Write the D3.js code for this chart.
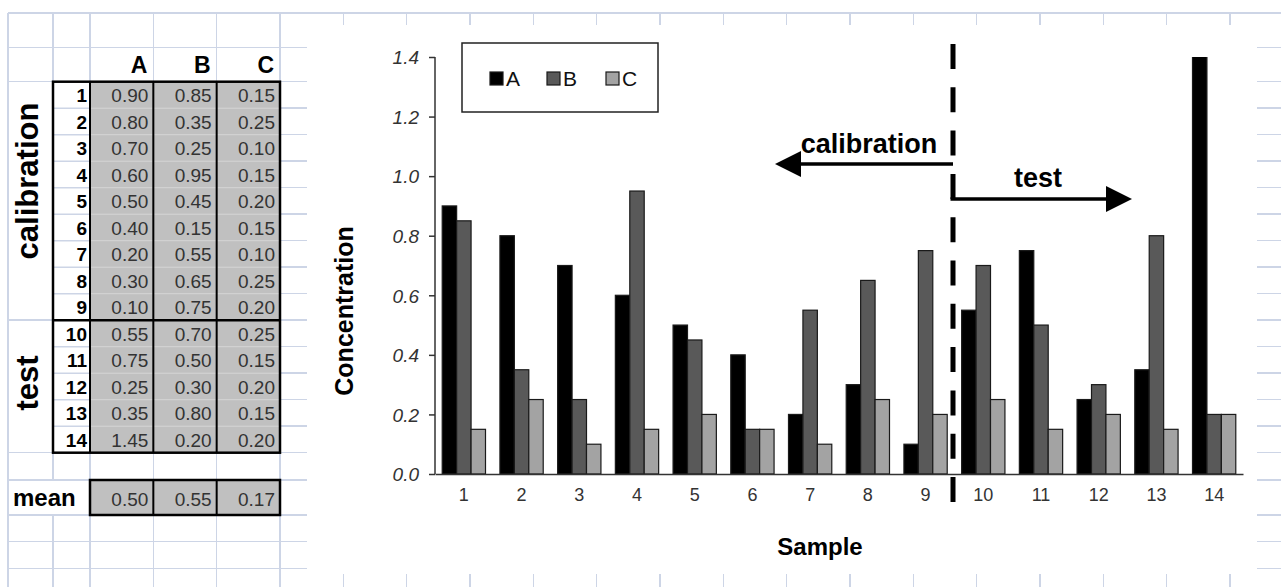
<!DOCTYPE html>
<html>
<head>
<meta charset="utf-8">
<script src="https://cdn.jsdelivr.net/npm/d3@7"></script>
<style>
  html, body { margin: 0; padding: 0; background: #fff; }
  svg { display: block; font-family: "Liberation Sans", Arial, sans-serif; }
</style>
</head>
<body>
<svg id="sheet" width="1281" height="587"></svg>
<script>
// Sample numbers and measured concentrations of three analytes
const samples = ["1","2","3","4","5","6","7","8","9","10","11","12","13","14"];
const seriesNames = ["A", "B", "C"];
const valuesA = [0.90, 0.80, 0.70, 0.60, 0.50, 0.40, 0.20, 0.30, 0.10, 0.55, 0.75, 0.25, 0.35, 1.45];
const valuesB = [0.85, 0.35, 0.25, 0.95, 0.45, 0.15, 0.55, 0.65, 0.75, 0.70, 0.50, 0.30, 0.80, 0.20];
const valuesC = [0.15, 0.25, 0.10, 0.15, 0.20, 0.15, 0.10, 0.25, 0.20, 0.25, 0.15, 0.20, 0.15, 0.20];
const calibrationCount = 9;           // samples 1..9 calibrate, 10..14 test
const yTicks = [0.0, 0.2, 0.4, 0.6, 0.8, 1.0, 1.2, 1.4];
const seriesFill = ["#000000", "#595959", "#a3a3a3"];

const series = [valuesA, valuesB, valuesC];
const rows = samples.map((s, i) => ({ sample: s, vals: series.map(v => v[i]) }));
const means = series.map(v => d3.mean(v.slice(0, calibrationCount)));

const svg = d3.select("#sheet");
const W = 1281, H = 587;
const gridColor = "#cdd5e6";

// ---------- worksheet grid ----------
const colEdges = [8, 53, 90];
for (let k = 1; k <= 19; k++) colEdges.push(90 + 63.33 * k);
const rowEdges = [13, 47.3, 81.7];
for (let k = 1; k <= 14; k++) rowEdges.push(81.7 + 26.5 * k);
rowEdges.push(480, 515, 541.7, 568.3, 595);

const grid = svg.append("g").attr("shape-rendering", "crispEdges");
grid.selectAll("line.h").data(rowEdges).join("line")
  .attr("x1", 8).attr("x2", W).attr("y1", d => d).attr("y2", d => d)
  .attr("stroke", gridColor).attr("stroke-width", 1.5);
grid.selectAll("line.v").data(colEdges).join("line")
  .attr("x1", d => d).attr("x2", d => d).attr("y1", 13).attr("y2", H)
  .attr("stroke", gridColor).attr("stroke-width", 1.5);

// merged label cells (calibration / test / mean) hide inner grid lines
const rowTop = i => 81.7 + 26.5 * i;
grid.append("rect").attr("x", 9).attr("y", rowTop(0) + 1).attr("width", 43).attr("height", rowTop(9) - rowTop(0) - 2).attr("fill", "#fff");
grid.append("rect").attr("x", 9).attr("y", rowTop(9) + 1).attr("width", 43).attr("height", rowTop(14) - rowTop(9) - 2).attr("fill", "#fff");
grid.append("rect").attr("x", 9).attr("y", 481).attr("width", 80).attr("height", 33).attr("fill", "#fff");

// ---------- data table ----------
const tbl = svg.append("g");
const dataCols = [90, 90 + 63.33, 90 + 126.67, 90 + 190];
tbl.append("rect").attr("x", 53).attr("y", rowTop(0)).attr("width", 37).attr("height", rowTop(14) - rowTop(0)).attr("fill", "#fff");
tbl.append("rect").attr("x", 90).attr("y", rowTop(0)).attr("width", 190).attr("height", rowTop(14) - rowTop(0)).attr("fill", "#c0c0c0");
// faint row separators inside the table
tbl.selectAll("line.rs").data(d3.range(1, 14)).join("line")
  .attr("x1", 53).attr("x2", 90).attr("y1", d => rowTop(d)).attr("y2", d => rowTop(d))
  .attr("stroke", gridColor).attr("stroke-width", 1.5);
tbl.selectAll("line.rg").data(d3.range(1, 14)).join("line")
  .attr("x1", 90).attr("x2", 280).attr("y1", d => rowTop(d)).attr("y2", d => rowTop(d))
  .attr("stroke", "#d6d6d6").attr("stroke-width", 1);

// column headers
tbl.selectAll("text.hdr").data(seriesNames).join("text")
  .attr("x", (d, i) => dataCols[i + 1] - 6).attr("y", 73)
  .attr("text-anchor", "end").attr("font-size", 23).attr("font-weight", "bold").attr("fill", "#000")
  .text(d => d);

// row numbers and values
tbl.selectAll("text.num").data(rows).join("text")
  .attr("x", 87).attr("y", (d, i) => rowTop(i) + 13.25 + 7.5)
  .attr("text-anchor", "end").attr("font-size", 19).attr("font-weight", "bold").attr("fill", "#000")
  .text(d => d.sample);
rows.forEach((r, i) => {
  tbl.selectAll(null).data(r.vals).join("text")
    .attr("x", (d, j) => dataCols[j + 1] - 5).attr("y", rowTop(i) + 13.25 + 7.5)
    .attr("text-anchor", "end").attr("font-size", 19).attr("fill", "#333")
    .text(d => d3.format(".2f")(d));
});

// table borders
const bord = tbl.append("g").attr("fill", "none").attr("stroke", "#000");
bord.append("rect").attr("x", 53).attr("y", rowTop(0)).attr("width", 227).attr("height", rowTop(14) - rowTop(0)).attr("stroke-width", 2.5);
bord.selectAll("line.cs").data(dataCols.slice(0, 3)).join("line")
  .attr("x1", d => d).attr("x2", d => d).attr("y1", rowTop(0)).attr("y2", rowTop(14))
  .attr("stroke-width", 2);
bord.append("line").attr("x1", 53).attr("x2", 280).attr("y1", rowTop(9)).attr("y2", rowTop(9)).attr("stroke-width", 2.5);

// mean row
tbl.append("rect").attr("x", 90).attr("y", 480).attr("width", 190).attr("height", 35).attr("fill", "#c0c0c0").attr("stroke", "#000").attr("stroke-width", 2.5);
tbl.selectAll("line.ms").data(dataCols.slice(1, 3)).join("line")
  .attr("x1", d => d).attr("x2", d => d).attr("y1", 480).attr("y2", 515)
  .attr("stroke", "#000").attr("stroke-width", 2);
tbl.selectAll("text.mean").data(means).join("text")
  .attr("x", (d, j) => dataCols[j + 1] - 5).attr("y", 506)
  .attr("text-anchor", "end").attr("font-size", 19).attr("fill", "#333")
  .text(d => d3.format(".2f")(d));
tbl.append("text").attr("x", 13).attr("y", 506).attr("font-size", 24).attr("font-weight", "bold").text("mean");

// side labels
tbl.append("text").attr("transform", "translate(38,181) rotate(-90)")
  .attr("text-anchor", "middle").attr("font-size", 31).attr("font-weight", "bold").text("calibration");
tbl.append("text").attr("transform", "translate(38,383) rotate(-90)")
  .attr("text-anchor", "middle").attr("font-size", 31).attr("font-weight", "bold").text("test");

// ---------- chart ----------
svg.append("rect").attr("x", 307).attr("y", 25).attr("width", 950).attr("height", 549).attr("fill", "#fff");

const plot = { left: 435, right: 1243, top: 57, bottom: 474 };
const x0 = d3.scaleBand().domain(samples).range([plot.left, plot.right]).paddingInner(0.25).paddingOuter(0.125);
const x1 = d3.scaleBand().domain(seriesNames).range([0, x0.bandwidth()]);
const y = d3.scaleLinear().domain([0, 1.4]).range([plot.bottom, plot.top]);

svg.append("clipPath").attr("id", "plotClip")
  .append("rect").attr("x", plot.left).attr("y", plot.top).attr("width", plot.right - plot.left).attr("height", plot.bottom - plot.top);

const bars = svg.append("g").attr("clip-path", "url(#plotClip)");
bars.selectAll("g").data(rows).join("g")
  .attr("transform", d => `translate(${x0(d.sample)},0)`)
  .selectAll("rect").data(d => d.vals.map((v, j) => ({ key: seriesNames[j], v, j })))
  .join("rect")
  .attr("x", d => x1(d.key)).attr("width", x1.bandwidth())
  .attr("y", d => y(d.v)).attr("height", d => y(0) - y(d.v))
  .attr("fill", d => seriesFill[d.j]).attr("stroke", "#1a1a1a").attr("stroke-width", 1.2);

// y axis
const yAxis = svg.append("g").attr("transform", `translate(${plot.left},0)`)
  .call(d3.axisLeft(y).tickValues(yTicks).tickFormat(d3.format(".1f")).tickSize(6).tickPadding(10));
yAxis.select(".domain").attr("stroke", "#333").attr("stroke-width", 1.5).attr("d", `M0,${plot.top}V${plot.bottom}`);
yAxis.selectAll(".tick line").attr("stroke", "#333").attr("stroke-width", 1.5);
yAxis.selectAll(".tick text").attr("font-size", 19).attr("font-style", "italic").attr("fill", "#333")
  .attr("font-family", "Liberation Sans, Arial, sans-serif").attr("dy", "0.36em");

// x axis
const xAxis = svg.append("g").attr("transform", `translate(0,${plot.bottom})`)
  .call(d3.axisBottom(x0).tickSize(0).tickPadding(14));
xAxis.select(".domain").attr("stroke", "#333").attr("stroke-width", 1.5);
xAxis.selectAll(".tick text").attr("font-size", 18).attr("fill", "#333")
  .attr("font-family", "Liberation Sans, Arial, sans-serif");

// axis titles
svg.append("text").attr("transform", "translate(353,311) rotate(-90)")
  .attr("text-anchor", "middle").attr("font-size", 25).attr("font-weight", "bold").text("Concentration");
svg.append("text").attr("x", 820).attr("y", 555)
  .attr("text-anchor", "middle").attr("font-size", 24).attr("font-weight", "bold").text("Sample");

// legend
const legend = svg.append("g");
legend.append("rect").attr("x", 462).attr("y", 43).attr("width", 196).attr("height", 69)
  .attr("fill", "#fff").attr("stroke", "#222").attr("stroke-width", 1.5);
const legX = [490, 547, 606];
seriesNames.forEach((n, j) => {
  legend.append("rect").attr("x", legX[j]).attr("y", 72).attr("width", 13).attr("height", 13)
    .attr("fill", seriesFill[j]).attr("stroke", "#1a1a1a").attr("stroke-width", 1.2);
  legend.append("text").attr("x", legX[j] + 16).attr("y", 85.5).attr("font-size", 21).attr("fill", "#111").text(n);
});

// split between calibration and test samples
const splitX = 953;
svg.append("line").attr("x1", splitX).attr("x2", splitX).attr("y1", 44).attr("y2", 502)
  .attr("stroke", "#000").attr("stroke-width", 5).attr("stroke-dasharray", "25 18.3");

const ann = svg.append("g");
ann.append("line").attr("x1", splitX).attr("x2", 798).attr("y1", 164).attr("y2", 164).attr("stroke", "#000").attr("stroke-width", 3.5);
ann.append("path").attr("d", "M775,164L801,151L801,177Z").attr("fill", "#000");
ann.append("text").attr("x", 869).attr("y", 153).attr("text-anchor", "middle").attr("font-size", 27).attr("font-weight", "bold").text("calibration");
ann.append("line").attr("x1", splitX - 2.5).attr("x2", 1109).attr("y1", 199).attr("y2", 199).attr("stroke", "#000").attr("stroke-width", 3.5);
ann.append("path").attr("d", "M1132,199L1106,186L1106,212Z").attr("fill", "#000");
ann.append("text").attr("x", 1038).attr("y", 187).attr("text-anchor", "middle").attr("font-size", 27).attr("font-weight", "bold").text("test");
</script>
</body>
</html>
